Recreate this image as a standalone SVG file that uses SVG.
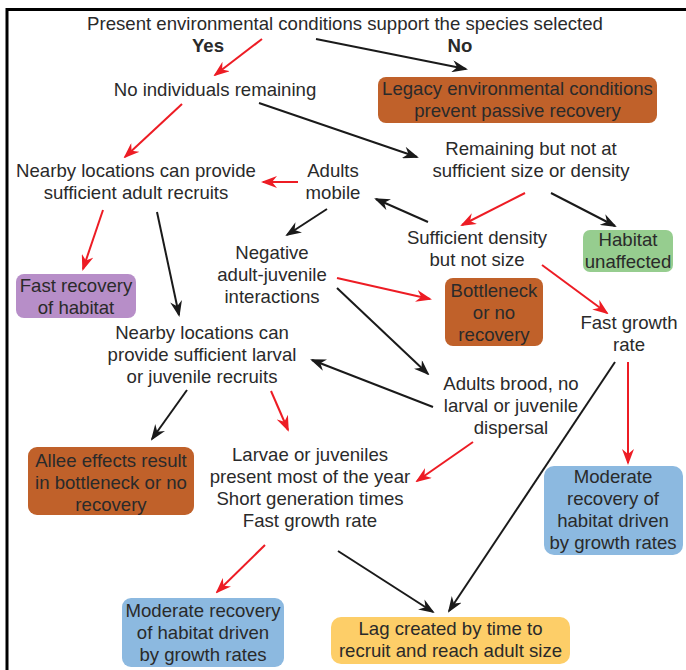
<svg xmlns="http://www.w3.org/2000/svg" width="686" height="670" viewBox="0 0 686 670">
<style>
text{font-family:"Liberation Sans",Arial,sans-serif;font-size:18.6px;fill:#2a2a2a;text-anchor:middle}
.b{font-weight:bold}
.k{stroke:#1a1a1a;stroke-width:2;fill:none;marker-end:url(#ak)}
.r{stroke:#ed1c24;stroke-width:2;fill:none;marker-end:url(#ar)}
.or{fill:#c0612a}
.gr{fill:#96cd8f}
.pu{fill:#b78ec8}
.bl{fill:#8cb9e0}
.ye{fill:#fdce68}
</style>
<defs>
<marker id="ak" markerUnits="userSpaceOnUse" viewBox="0 0 16 12" markerWidth="16" markerHeight="12" refX="14" refY="6" orient="auto"><path d="M0,0 L16,6 L0,12 L5,6 Z" fill="#1a1a1a"/></marker>
<marker id="ar" markerUnits="userSpaceOnUse" viewBox="0 0 16 12" markerWidth="16" markerHeight="12" refX="14" refY="6" orient="auto"><path d="M0,0 L16,6 L0,12 L5,6 Z" fill="#ed1c24"/></marker>
</defs>
<rect width="686" height="670" fill="#fff"/>
<path d="M7,670 V9.5 H686" stroke="#000" stroke-width="3" fill="none"/>

<g id="connectors">
<line class="r" x1="262" y1="39" x2="215" y2="75"/>
<line class="k" x1="316" y1="39" x2="466" y2="69"/>
<text class="b" x="208" y="52">Yes</text>
<text class="b" x="460" y="52">No</text>
<line class="r" x1="182" y1="104" x2="125" y2="157"/>
<line class="k" x1="259" y1="103" x2="417" y2="157"/>
<line class="r" x1="298" y1="182" x2="263" y2="182"/>
<line class="k" x1="327" y1="209" x2="287" y2="235"/>
<line class="k" x1="428" y1="222" x2="376" y2="199"/>
<line class="r" x1="525" y1="193" x2="462" y2="225"/>
<line class="k" x1="551" y1="193" x2="615" y2="226"/>
<line class="r" x1="542" y1="265" x2="607" y2="313"/>
<line class="r" x1="337" y1="278" x2="430" y2="299"/>
<line class="k" x1="337" y1="288" x2="428" y2="374"/>
<line class="k" x1="433" y1="407" x2="312" y2="360"/>
<line class="k" x1="157" y1="212" x2="179" y2="315"/>
<line class="r" x1="103" y1="210" x2="83" y2="269"/>
<line class="k" x1="187" y1="390" x2="152" y2="439"/>
<line class="r" x1="271" y1="391" x2="288" y2="430"/>
<line class="r" x1="473" y1="442" x2="417" y2="481"/>
<line class="k" x1="615" y1="362" x2="449" y2="611"/>
<line class="r" x1="628" y1="362" x2="628" y2="463"/>
<line class="r" x1="265" y1="545" x2="217" y2="592"/>
<line class="k" x1="338" y1="551" x2="433" y2="612"/>
</g>

<g id="n-present"><text x="345" y="30">Present environmental conditions support the species selected</text></g>
<g id="n-noind"><text x="215" y="96">No individuals remaining</text></g>
<g id="n-legacy"><rect class="or" x="378" y="77" width="279" height="46" rx="8"/><text x="517.5" y="95">Legacy environmental conditions</text><text x="517.5" y="117">prevent passive recovery</text></g>
<g id="n-remaining"><text x="531" y="155">Remaining but not at</text><text x="531" y="177">sufficient size or density</text></g>
<g id="n-nearbyadult"><text x="136" y="177">Nearby locations can provide</text><text x="136" y="199">sufficient adult recruits</text></g>
<g id="n-mobile"><text x="333" y="177">Adults</text><text x="333" y="199">mobile</text></g>
<g id="n-density"><text x="477" y="244">Sufficient density</text><text x="477" y="266">but not size</text></g>
<g id="n-habitat"><rect class="gr" x="583" y="230" width="90" height="42" rx="7"/><text x="628" y="246">Habitat</text><text x="628" y="268">unaffected</text></g>
<g id="n-negative"><text x="272" y="259">Negative</text><text x="272" y="281">adult-juvenile</text><text x="272" y="303">interactions</text></g>
<g id="n-fastrec"><rect class="pu" x="16" y="274" width="120" height="44" rx="8"/><text x="76" y="292">Fast recovery</text><text x="76" y="314">of habitat</text></g>
<g id="n-bottleneck"><rect class="or" x="445" y="278" width="98" height="68" rx="8"/><text x="494" y="297">Bottleneck</text><text x="494" y="319">or no</text><text x="494" y="341">recovery</text></g>
<g id="n-fastgrowth"><text x="629" y="329">Fast growth</text><text x="629" y="351">rate</text></g>
<g id="n-nearbylarval"><text x="202" y="339">Nearby locations can</text><text x="202" y="361">provide sufficient larval</text><text x="202" y="383">or juvenile recruits</text></g>
<g id="n-brood"><text x="511" y="390">Adults brood, no</text><text x="511" y="412">larval or juvenile</text><text x="511" y="434">dispersal</text></g>
<g id="n-allee"><rect class="or" x="28" y="447" width="166" height="68" rx="9"/><text x="111" y="467">Allee effects result</text><text x="111" y="489">in bottleneck or no</text><text x="111" y="511">recovery</text></g>
<g id="n-larvae"><text x="310" y="461">Larvae or juveniles</text><text x="310" y="483">present most of the year</text><text x="310" y="505">Short generation times</text><text x="310" y="527">Fast growth rate</text></g>
<g id="n-moderate-r"><rect class="bl" x="544" y="466" width="139" height="89" rx="10"/><text x="613" y="483">Moderate</text><text x="613" y="505">recovery of</text><text x="613" y="527">habitat driven</text><text x="613" y="549">by growth rates</text></g>
<g id="n-moderate-l"><rect class="bl" x="122" y="598" width="162" height="69" rx="9"/><text x="203" y="617">Moderate recovery</text><text x="203" y="639">of habitat driven</text><text x="203" y="661">by growth rates</text></g>
<g id="n-lag"><rect class="ye" x="331" y="617" width="239" height="47" rx="10"/><text x="450.5" y="635">Lag created by time to</text><text x="450.5" y="657">recruit and reach adult size</text></g>
</svg>
